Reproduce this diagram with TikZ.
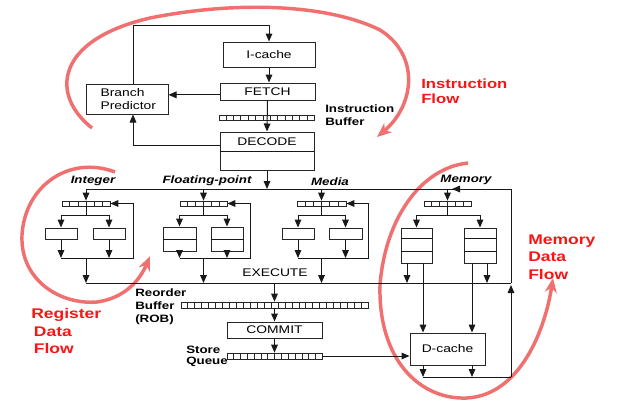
\documentclass[tikz,border=0pt]{standalone}
\usepackage{fontspec}
\setmainfont{Liberation Sans}
\usetikzlibrary{arrows.meta,calc,fit}
\definecolor{flowred}{RGB}{240,112,112}
\definecolor{txtred}{RGB}{250,20,20}
\newcommand\hs[1]{\scalebox{1.25}[1]{#1}}
\newcommand\cells[2]{\foreach \k in {1,...,#2}{\draw[line width=0.45pt,black!85] ($(#1.south west)!{\k/(#2+1)}!(#1.south east)$) -- ($(#1.north west)!{\k/(#2+1)}!(#1.north east)$);}}
\tikzset{
 ln/.style={line width=0.75pt, draw=black!90},
 arr/.style={ln, -{Triangle[length=6pt,width=5pt]}},
 box/.style={draw=black!85, line width=0.75pt, inner sep=0pt},
 q/.style={draw=black!85, line width=0.55pt, inner sep=0pt},
 boxtxt/.style={font=\fontsize{8.3}{9.8}\selectfont, inner sep=0pt, align=center},
 lbl/.style={font=\fontsize{8}{9.75}\selectfont\bfseries, inner sep=0pt, align=left},
 unit/.style={font=\fontsize{8}{9.6}\selectfont\bfseries\itshape, inner sep=0pt},
 flow/.style={draw=flowred, line width=2.6pt, -{Stealth[length=11pt,width=9pt]}},
 flowtxt/.style={text=txtred, inner sep=0pt, align=left},
}
\begin{document}
\begin{tikzpicture}[x=0.75pt,y=-0.75pt]
\useasboundingbox (0,0) rectangle (617,408);

% ---------- red flow arcs ----------
\draw[flow] (92,128) .. controls (50,95) and (55,40) .. (150,18) .. controls (240,0) and (330,5) .. (380,30) .. controls (420,55) and (415,105) .. (377,137);
\draw[flow] (115,172) .. controls (70,155) and (25,185) .. (22,235) .. controls (20,280) and (60,305) .. (97,302) .. controls (125,298) and (140,280) .. (150,256);
\draw[flow] (468,163) .. controls (420,168) and (385,220) .. (380,285) .. controls (378,360) and (420,400) .. (467,398) .. controls (520,395) and (545,330) .. (553,278);

\node[flowtxt, anchor=west, font=\fontsize{10}{11.25}\selectfont\bfseries] (tif) at (421,91) {\hs{Instruction}\\\hs{Flow}};
\node[flowtxt, anchor=west, font=\fontsize{10.5}{13}\selectfont\bfseries] (tmf) at (528,257) {\hs{Memory}\\\hs{Data}\\\hs{Flow}};
\node[flowtxt, anchor=west, font=\fontsize{10.5}{13.3}\selectfont\bfseries] (trf) at (31,331) {\hs{Register}\\\hspace{2pt}\hs{Data}\\\hspace{2pt}\hs{Flow}};

% ---------- front end ----------
\node[box, fit={(223,42) (315,67)}] (icache) {};
\node[boxtxt] (icachetxt) at (icache.center) {\hs{I-cache}};
\node[box, fit={(220,83) (315,100)}] (fetch) {};
\node[boxtxt] (fetchtxt) at (fetch.center) {\hs{FETCH}};
\node[q, fit={(219,115) (314,120)}] (ibuf) {};
\cells{ibuf}{12}
\node[box, fit={(220,132) (314,170)}] (decode) {};
\draw[ln] (decode.west) -- (decode.east);
\node[boxtxt] (decodetxt) at (267,142) {\hs{DECODE}};
\node[box, fit={(86,84) (168,114)}] (bp) {};
\node[boxtxt, align=left] (bptxt) at ([xshift=1pt]bp.center) {\hs{Branch}\\\hs{Predictor}};
\node[lbl, anchor=west] (iblbl) at (325,115) {\hs{Instruction}\\\hs{Buffer}};

\coordinate (top) at (133,25);
\coordinate (d1) at (133,145);
\draw[arr] (top |- bp.north) -- (top) -| (icache.north);
\draw[arr] (icache.south) -- (icache.south |- fetch.north);
\draw[arr] ([yshift=-2.5pt]fetch.west) -- ([yshift=-2.5pt]bp.east |- fetch.west);
\draw[arr] (fetch.south) -- (decode.north);
\draw[arr] (d1 -| decode.west) -- (d1) -- (d1 |- bp.south);

% ---------- buses ----------
\coordinate (bus) at (86,189);
\coordinate (res) at (86,283);
\coordinate (br) at (0,215);
\coordinate (lp) at (0,258);
\coordinate (dl) at (511,377);
\coordinate (memarr) at (452,189);
\draw[arr] (decode.south) -- (decode.south |- bus);
\draw[ln] (bus) -- (dl |- bus);
\draw[arr] (dl |- bus) -- (memarr);
\draw[ln] (res) -- (dl |- res);

% ---------- Integer ----------
\node[unit] (lint) at (93,181) {\hs{Integer}};
\node[q, fit={(62,201) (110,206)}] (qi) {};
\cells{qi}{5}
\node[box, fit={(45,228) (77,239)}] (i1) {};
\node[box, fit={(93,228) (125,239)}] (i2) {};
\coordinate (fbi) at (133,258);
\draw[arr] (qi.north |- bus) -- (qi.north);
\draw[ln] (qi.south) -- (qi.south |- br);
\draw[ln] (i1.north |- br) -- (i2.north |- br);
\draw[arr] (i1.north |- br) -- (i1.north);
\draw[arr] (i2.north |- br) -- (i2.north);
\draw[arr] (i1.south) -- (i1.south |- lp);
\draw[arr] (i2.south) -- (i2.south |- lp);
\draw[arr] (i1.south |- lp) -- (fbi) |- (qi.east);
\draw[arr] (qi.south |- lp) -- (qi.south |- res);

% ---------- Floating point ----------
\node[unit] (lfp) at (207,181) {\hs{Floating-point}};
\node[q, fit={(180,201) (227,206)}] (qf) {};
\cells{qf}{5}
\node[box, fit={(163,227) (196,251)}] (f1) {};
\node[box, fit={(211,227) (243,251)}] (f2) {};
\draw[ln] (f1.west) -- (f1.east);
\draw[ln] (f2.west) -- (f2.east);
\coordinate (fbf) at (250,258);
\draw[arr] (qf.north |- bus) -- (qf.north);
\draw[ln] (qf.south) -- (qf.south |- br);
\draw[ln] (f1.north |- br) -- (f2.north |- br);
\draw[arr] (f1.north |- br) -- (f1.north);
\draw[arr] (f2.north |- br) -- (f2.north);
\draw[arr] (f1.south) -- (f1.south |- lp);
\draw[arr] (f2.south) -- (f2.south |- lp);
\draw[arr] (f1.south |- lp) -- (fbf) |- (qf.east);
\draw[arr] (qf.south |- lp) -- (qf.south |- res);

% ---------- Media ----------
\node[unit] (lmd) at (330,182) {\hs{Media}};
\node[q, fit={(297,201) (346,206)}] (qm) {};
\cells{qm}{5}
\node[box, fit={(282,228) (314,239)}] (m1) {};
\node[box, fit={(329,228) (362,239)}] (m2) {};
\coordinate (fbm) at (368,258);
\draw[arr] (qm.north |- bus) -- (qm.north);
\draw[ln] (qm.south) -- (qm.south |- br);
\draw[ln] (m1.north |- br) -- (m2.north |- br);
\draw[arr] (m1.north |- br) -- (m1.north);
\draw[arr] (m2.north |- br) -- (m2.north);
\draw[arr] (m1.south) -- (m1.south |- lp);
\draw[arr] (m2.south) -- (m2.south |- lp);
\draw[arr] (m1.south |- lp) -- (fbm) |- (qm.east);
\draw[arr] (qm.south |- lp) -- (qm.south |- res);

\node[boxtxt] (exe) at (275,273) {\hs{EXECUTE}};

% ---------- Memory ----------
\node[unit] (lmem) at (466,180) {\hs{Memory}};
\node[q, fit={(424,201) (471,206)}] (qs) {};
\cells{qs}{5}
\node[box, fit={(401,228) (432,263)}] (s1) {};
\node[box, fit={(464,228) (496,263)}] (s2) {};
\foreach \n in {s1,s2}{
 \draw[ln] ($(\n.north west)!0.314!(\n.south west)$) -- ($(\n.north east)!0.314!(\n.south east)$);
 \draw[ln] ($(\n.north west)!0.657!(\n.south west)$) -- ($(\n.north east)!0.657!(\n.south east)$);
}
\draw[arr] (qs.north |- bus) -- (qs.north);
\draw[ln] (qs.south) -- (qs.south |- br);
\draw[ln] (s1.north |- br) -- (s2.north |- br);
\draw[arr] (s1.north |- br) -- (s1.north);
\draw[arr] (s2.north |- br) -- (s2.north);

\node[box, fit={(410,333) (485,365)}] (dc) {};
\node[boxtxt] (dctxt) at (dc.center) {\hs{D-cache}};
\coordinate (ma) at (407,263);
\coordinate (mb) at (423,263);
\coordinate (mc) at (472,263);
\coordinate (md) at (487,263);
\draw[arr] (ma) -- (ma |- res);
\draw[arr] (md) -- (md |- res);
\draw[arr] (mb) -- (mb |- dc.north);
\draw[arr] (mc) -- (mc |- dc.north);
\draw[arr] (mb |- dc.south) -- (mb |- dl);
\draw[arr] (mc |- dc.south) -- (mc |- dl);
\draw[ln] (mb |- dl) -- (dl);
\draw[arr] (dl) -- ([yshift=-1.5pt]dl |- res);
\draw[ln] (dl |- res) -- (dl |- bus);

% ---------- ROB / commit ----------
\node[q, fit={(181,302) (368,308)}] (rob) {};
\cells{rob}{26}
\node[box, fit={(227,322) (322,338)}] (commit) {};
\node[boxtxt] (committxt) at (commit.center) {\hs{COMMIT}};
\node[q, fit={(227,353) (322,359)}] (sq) {};
\cells{sq}{13}
\node[lbl, anchor=west] (roblbl) at (135,307) {\hs{Reorder}\\\hs{Buffer}\\\hs{(ROB)}};
\node[lbl, anchor=west, font=\fontsize{8}{8.5}\selectfont\bfseries] (sqlbl) at (186,356) {\hs{Store}\\\hs{Queue}};
\draw[arr] (rob.north |- res) -- (rob.north);
\draw[arr] (rob.south) -- (commit.north);
\draw[arr] (commit.south) -- (sq.north);
\draw[arr] (sq.east) -- (dc.west |- sq.east);
\end{tikzpicture}
\end{document}
